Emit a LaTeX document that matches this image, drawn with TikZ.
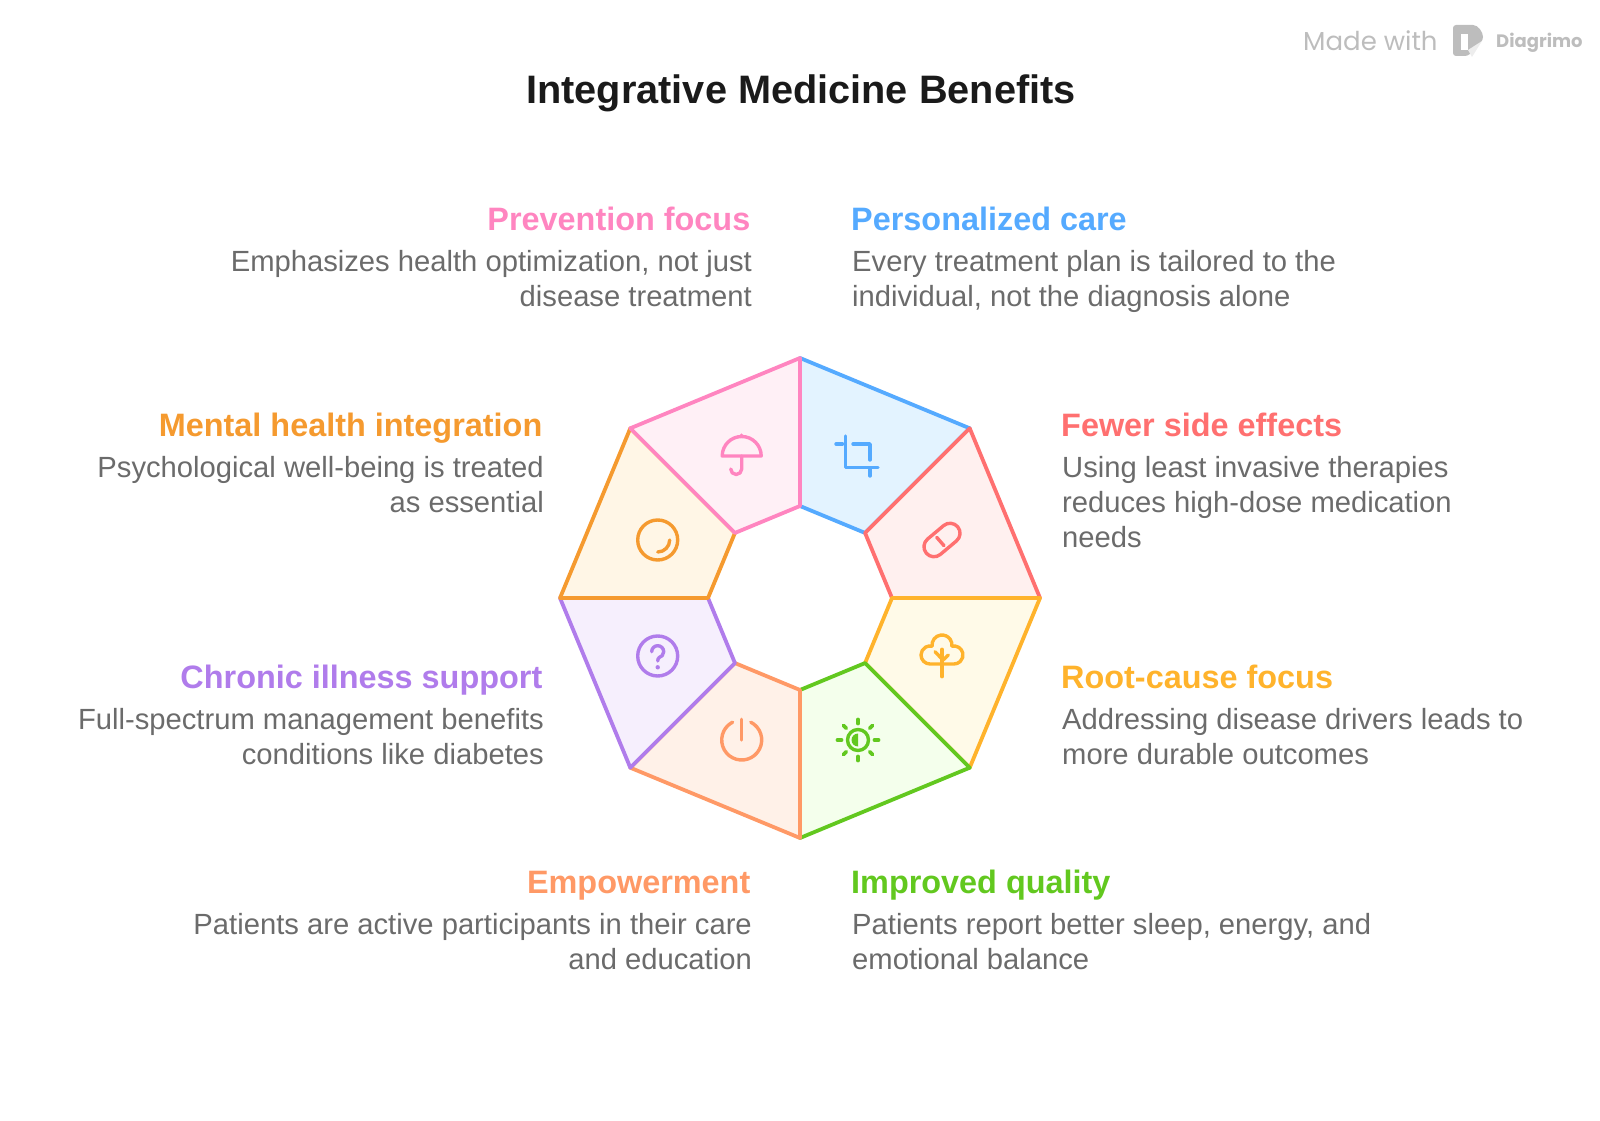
\documentclass[tikz,border=0pt]{standalone}
\usepackage{fontspec}
\setmainfont{Liberation Sans}
\newfontfamily\markfont{Poppins}
\usetikzlibrary{calc,positioning}
\definecolor{ink}{HTML}{1A1A1A}
\definecolor{slate}{HTML}{6B6B6B}
\definecolor{markgrey}{HTML}{BDBDBD}
\definecolor{marklight}{HTML}{EDEDED}
\definecolor{cblue}{HTML}{55AAFF}
\definecolor{fblue}{HTML}{E3F3FF}
\definecolor{cred}{HTML}{FF7070}
\definecolor{fred}{HTML}{FFF0EF}
\definecolor{cyellow}{HTML}{FFB32C}
\definecolor{fyellow}{HTML}{FFFAE8}
\definecolor{cgreen}{HTML}{62C81F}
\definecolor{fgreen}{HTML}{F4FFEC}
\definecolor{csalmon}{HTML}{FF9966}
\definecolor{fsalmon}{HTML}{FFF1E8}
\definecolor{cpurple}{HTML}{B07CEB}
\definecolor{fpurple}{HTML}{F6EFFD}
\definecolor{corange}{HTML}{F59A2F}
\definecolor{forange}{HTML}{FFF6E6}
\definecolor{cpink}{HTML}{FF85C0}
\definecolor{fpink}{HTML}{FFF0F6}
\newcommand{\HeadF}{\fontsize{32.4}{36}\selectfont\bfseries}
\newcommand{\BodyF}{\fontsize{29.2}{35}\selectfont}
\tikzset{
  segm/.style={line width=3.8pt, line join=round},
  ico/.style={line width=3.4pt, line cap=round, line join=round, fill=none},
  headl/.style={anchor=base east, inner sep=0pt, text depth=6.8pt, font=\HeadF},
  headr/.style={anchor=base west, inner sep=0pt, text depth=6.8pt, font=\HeadF},
  bodyl/.style={anchor=north east, align=right, inner sep=0pt, xshift=1.5pt, font=\BodyF, text=slate},
  bodyr/.style={anchor=north west, align=left, inner sep=0pt, xshift=1pt, font=\BodyF, text=slate},
}
\begin{document}
\begin{tikzpicture}[x=1pt,y=1pt]
  \useasboundingbox (0,0) rectangle (1600,1120);
  \coordinate (c) at (800,522);
  % ring corners, top first, clockwise
  \foreach \n/\a in {1/90,2/45,3/0,4/-45,5/-90,6/-135,7/180,8/135}{
    \coordinate (o\n) at ($(c)+(\a:240pt)$);
    \coordinate (i\n) at ($(c)+(\a:92pt)$);
  }
  % segments
  \draw[segm,draw=cblue,fill=fblue] (o1)--(o2)--(i2)--(i1)--cycle;
  \draw[segm,draw=cred,fill=fred] (o2)--(o3)--(i3)--(i2)--cycle;
  \draw[segm,draw=cyellow,fill=fyellow] (o3)--(o4)--(i4)--(i3)--cycle;
  \draw[segm,draw=cgreen,fill=fgreen] (o4)--(o5)--(i5)--(i4)--cycle;
  \draw[segm,draw=csalmon,fill=fsalmon] (o5)--(o6)--(i6)--(i5)--cycle;
  \draw[segm,draw=cpurple,fill=fpurple] (o6)--(o7)--(i7)--(i6)--cycle;
  \draw[segm,draw=corange,fill=forange] (o7)--(o8)--(i8)--(i7)--cycle;
  \draw[segm,draw=cpink,fill=fpink] (o8)--(o1)--(i1)--(i8)--cycle;
  % icons
  \begin{scope}[shift={(858,665)},ico,draw=cblue]
    \draw (-12.3,19)--(-12.3,-12.7)--(20,-12.7);
    \draw (-22,11)--(-15.5,11);
    \draw (-5,11)--(12,11)--(12,-5);
    \draw (12,-14)--(12,-21);
  \end{scope}
  \begin{scope}[shift={(942,580)},ico,draw=cred]
    \draw[rotate=40] (-10.5,-10)--(10.5,-10) arc[start angle=-90,end angle=90,radius=10]--(-10.5,10) arc[start angle=90,end angle=270,radius=10]--cycle;
    \draw (-5.3,2.7)--(2,-5.7);
  \end{scope}
  \begin{scope}[shift={(942,465)},ico,draw=cyellow]
    \draw (-12,-9) arc[start angle=270,end angle=76.7,radius=9] arc[start angle=187,end angle=-7,radius=10] arc[start angle=103.3,end angle=-90,radius=9]--cycle;
    \draw (0,5.7)--(0,-21.7);
    \draw (-7,3.3)--(0,-4);
    \draw (6.3,0)--(0,-6);
  \end{scope}
  \begin{scope}[shift={(858,380)},ico,draw=cgreen]
    \draw (0,0) circle[radius=10.5];
    \fill[cgreen] (0,6.5) arc[start angle=90,end angle=270,radius=6.5]--cycle;
    \foreach \a in {0,45,...,315}{
      \draw[line width=3.8pt] (\a:16.5)--(\a:20.5);
    }
  \end{scope}
  \begin{scope}[shift={(741.7,380)},ico,draw=csalmon]
    \draw (63:20) arc[start angle=63,end angle=-243,radius=20];
    \draw (0,20.7)--(0,0);
  \end{scope}
  \begin{scope}[shift={(657.7,464)},ico,draw=cpurple]
    \draw (0,0) circle[radius=20];
    \draw (-6,4.3) arc[start angle=180,end angle=-40,radius=6] .. controls (2.5,-1) and (0,-1.5) .. (0,-5);
    \fill[cpurple] (0,-11.3) circle[radius=2.2];
  \end{scope}
  \begin{scope}[shift={(657.7,580)},ico,draw=corange]
    \draw (0,0) circle[radius=20];
    \draw (0,-12) arc[start angle=-90,end angle=0,radius=12];
  \end{scope}
  \begin{scope}[shift={(741.7,665)},ico,draw=cpink]
    \draw (-19.5,-1) arc[start angle=180,end angle=0,radius=19.5]--cycle;
    \draw (0,18.5)--(0,20);
    \draw (0,-1)--(0,-14) arc[start angle=0,end angle=-180,radius=5.5];
  \end{scope}
  % title
  \node[inner sep=0pt,anchor=base,font=\fontsize{39.7}{46}\selectfont\bfseries,text=ink] (title) at (801,1016) {Integrative Medicine Benefits};
  % labels, right side
  \node[headr,text=cblue] (h1) at (851,889.5) {Personalized care};
  \node[bodyr,below=12.5pt of h1.south west,anchor=north west] (b1) {Every treatment plan is tailored to the\\individual, not the diagnosis alone};
  \node[headr,text=cred] (h2) at (1061,683.5) {Fewer side effects};
  \node[bodyr,below=12.5pt of h2.south west,anchor=north west] (b2) {Using least invasive therapies\\reduces high-dose medication\\needs};
  \node[headr,text=cyellow] (h3) at (1061,431.5) {Root-cause focus};
  \node[bodyr,below=12.5pt of h3.south west,anchor=north west] (b3) {Addressing disease drivers leads to\\more durable outcomes};
  \node[headr,text=cgreen] (h4) at (851,226.5) {Improved quality};
  \node[bodyr,below=12.5pt of h4.south west,anchor=north west] (b4) {Patients report better sleep, energy, and\\emotional balance};
  % labels, left side
  \node[headl,text=csalmon] (h5) at (750.5,226.5) {Empowerment};
  \node[bodyl,below=12.5pt of h5.south east,anchor=north east] (b5) {Patients are active participants in their care\\and education};
  \node[headl,text=cpurple] (h6) at (542.5,431.5) {Chronic illness support};
  \node[bodyl,below=12.5pt of h6.south east,anchor=north east] (b6) {Full-spectrum management benefits\\conditions like diabetes};
  \node[headl,text=corange] (h7) at (542.5,683.5) {Mental health integration};
  \node[bodyl,below=12.5pt of h7.south east,anchor=north east] (b7) {Psychological well-being is treated\\as essential};
  \node[headl,text=cpink] (h8) at (750.5,889.5) {Prevention focus};
  \node[bodyl,below=12.5pt of h8.south east,anchor=north east] (b8) {Emphasizes health optimization, not just\\disease treatment};
  % watermark
  \node[inner sep=0pt,anchor=base west,font=\markfont\fontsize{26}{30}\selectfont,text=markgrey] (made) at (1303,1069) {Made with};
  \node[inner sep=0pt,anchor=base west,font=\markfont\fontsize{18}{22}\selectfont\bfseries,text=markgrey] (brand) at (1496,1072) {Diagrimo};
  \fill[markgrey,rounded corners=3pt] (1453,1095)--(1470,1095) .. controls (1478,1095) and (1483,1088) .. (1483,1080)--(1468,1064)--(1453,1064)--cycle;
  \fill[white] (1461,1086) rectangle (1468,1070);
  \fill[marklight] (1468,1070)--(1482,1079)--(1472,1063)--cycle;
\end{tikzpicture}
\end{document}
